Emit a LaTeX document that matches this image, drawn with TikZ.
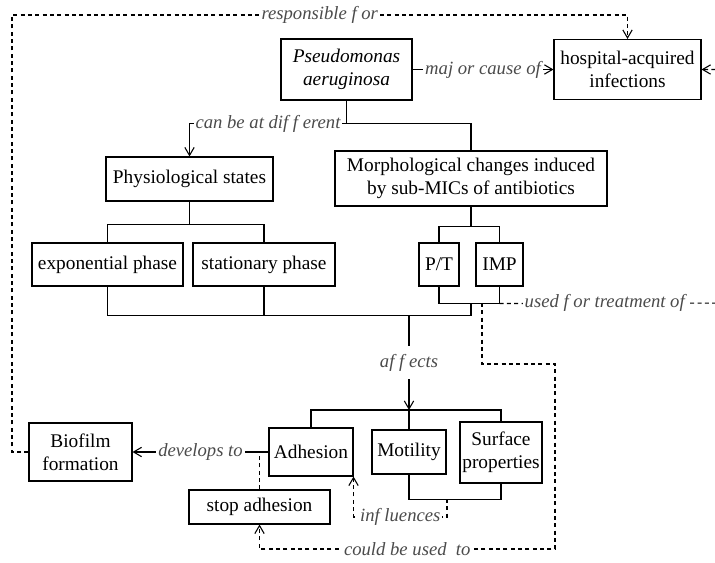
\documentclass[tikz,border=0pt]{standalone}
\usepackage{fontspec}
\setmainfont{Liberation Serif}
\usetikzlibrary{arrows.meta}
\definecolor{lblgray}{RGB}{75,75,75}

\begin{document}
\begin{tikzpicture}[x=0.75pt,y=0.75pt,yscale=-1,xscale=1,
  line width=0.8pt,
  box/.style={draw, inner sep=0pt, align=center, font=\fontsize{14.5}{17.25}\selectfont},
  lbl/.style={fill=white, inner sep=1.5pt, text=lblgray, font=\fontsize{14}{16}\selectfont\itshape},
  arr/.style={-{Straight Barb[length=6pt,width=7pt]}},
  dlink/.style={dash pattern=on 3pt off 2.5pt}]

\clip (0,0) rectangle (715,563);

% boxes
\node[box, minimum width=98.25pt, minimum height=45.75pt, font=\fontsize{14.5}{17.25}\selectfont\itshape] (pseudo) at (346.5,69.5) {Pseudomonas\\aeruginosa};
\node[box, minimum width=110.25pt, minimum height=45pt] (hosp) at (627.5,69.5) {hospital-acquired\\infections};
\node[box, minimum width=125.25pt, minimum height=33pt] (physio) at (189.5,179) {Physiological states};
\node[box, minimum width=204pt, minimum height=41.25pt] (morph) at (471,178.5) {Morphological changes induced\\by sub-MICs of antibiotics};
\node[box, minimum width=113.25pt, minimum height=32.25pt] (expo) at (107.5,264.5) {exponential phase};
\node[box, minimum width=106.5pt, minimum height=32.25pt] (stat) at (264,264.5) {stationary phase};
\node[box, minimum width=30pt, minimum height=32.25pt] (pt) at (439,264.5) {P/T};
\node[box, minimum width=35.25pt, minimum height=32.25pt] (imp) at (499.5,264.5) {IMP};
\node[box, minimum width=77.25pt, minimum height=43.5pt] (bio) at (80.5,452) {Biofilm\\formation};
\node[box, minimum width=63pt, minimum height=36pt] (adh) at (311,452) {Adhesion};
\node[box, minimum width=55.5pt, minimum height=33pt] (mot) at (409,452) {Motility};
\node[box, minimum width=61.5pt, minimum height=45.75pt] (surf) at (501,452.5) {Surface\\properties};
\node[box, minimum width=105.75pt, minimum height=25.5pt] (stop) at (259.5,507) {stop adhesion};

% tree lines
\draw[arr] (pseudo) -- node[lbl]{maj or cause of} (hosp);
\draw[arr] (pseudo.south) -- ++(0,23) coordinate (split) -| node[lbl,pos=0.25]{can be at dif f erent} (physio.north);
\draw (split) -| (morph.north);
\draw (physio.south) -- ++(0,23) coordinate (pj);
\draw (expo.north) |- (pj) -| (stat.north);
\draw (morph.south) -- ++(0,20) coordinate (mj1);
\draw (pt.north) |- (mj1) -| (imp.north);
\draw (pt.south) -- ++(0,17) coordinate (ptb) -| (imp.south);
\coordinate (impb) at (ptb -| imp.south);
\coordinate (treat) at (ptb -| morph.south);
\draw (expo.south) -- ++(0,29) coordinate (eb) -- (eb -| treat) -- (treat);
\draw (stat.south) -- (stat.south |- eb);
\coordinate (aff) at (eb -| mot.north);
\coordinate (mj) at (409,410);
\draw[arr] (aff) -- node[lbl,inner ysep=6pt]{af f ects} (mj);
\draw (adh.north) |- (mj) -| (surf.north);
\draw (mot.north) -- (mj);
\draw (mot.south) -- ++(0,25) coordinate (msb) -| (surf.south);
\draw[arr] (adh) -- node[lbl]{develops to} (bio);

% dashed links
\coordinate (infl) at (447,499);
\draw[dlink,arr] (infl) -- ++(0,18) -| node[lbl,pos=0.25]{inf luences} (adh.south east);
\draw[dlink] (stop.north) -- (stop.north |- adh.west);
\coordinate (topleft) at (12,15);
\draw[dlink,arr] (bio.west) -| (topleft) -- node[lbl]{responsible f or} (topleft -| hosp.north) -- (hosp.north);
\coordinate (edge) at (740,303);
\draw[dlink,arr] (impb) -- node[lbl,pos=0.4375]{used f or treatment of} (edge) |- (hosp.east);
\coordinate (cu) at (482,303);
\coordinate (cr) at (555,364);
\coordinate (cb) at (555,549);
\draw[dlink,arr] (cu) |- (cr) -- (cb) -| node[lbl,pos=0.25]{could be used\ \ to} (stop.south);

\end{tikzpicture}
\end{document}
